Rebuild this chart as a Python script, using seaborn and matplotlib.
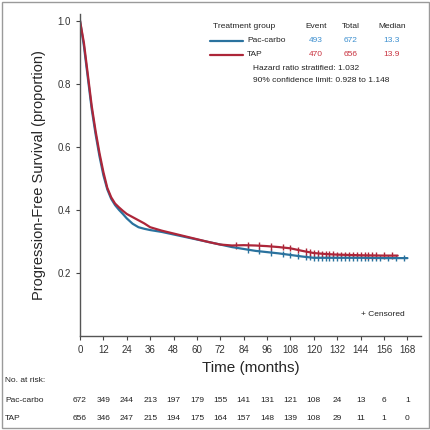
import numpy as np
import pandas as pd
import matplotlib
matplotlib.use("Agg")
import matplotlib.pyplot as plt
import matplotlib.transforms as mtransforms
from matplotlib.patches import Rectangle
import seaborn as sns

sns.set_style("ticks")
plt.rcParams['font.family'] = ['Liberation Sans', 'DejaVu Sans']

# ---- data ----
groups = ["Pac-carbo", "TAP"]
colors = {"Pac-carbo": "#2a729e", "TAP": "#ad2639"}
text_colors = {"Pac-carbo": "#3d8fcf", "TAP": "#c8323f"}

pc_time = [0, 2, 4, 6, 8, 10, 12, 14, 16, 18, 20, 22, 24, 27, 30, 33, 36, 42, 48, 54,
           60, 66, 72, 78, 84, 90, 96, 102, 108, 114, 120, 126, 132, 144, 156, 168]
pc_surv = [1.0, 0.92, 0.82, 0.72, 0.64, 0.57, 0.51, 0.465, 0.435, 0.415, 0.40, 0.387,
           0.373, 0.356, 0.345, 0.340, 0.336, 0.33, 0.322, 0.314, 0.306, 0.298, 0.29,
           0.282, 0.276, 0.27, 0.266, 0.262, 0.257, 0.252, 0.248, 0.248, 0.248, 0.248,
           0.247, 0.247]

tap_time = [0, 2, 4, 6, 8, 10, 12, 14, 16, 18, 20, 22, 24, 27, 30, 33, 36, 42, 48, 54,
            60, 66, 72, 78, 84, 90, 96, 102, 108, 114, 120, 126, 132, 144, 156, 163]
tap_surv = [1.0, 0.93, 0.83, 0.73, 0.65, 0.58, 0.52, 0.47, 0.44, 0.42, 0.408, 0.397,
            0.387, 0.377, 0.367, 0.357, 0.345, 0.334, 0.325, 0.316, 0.307, 0.298, 0.29,
            0.287, 0.288, 0.287, 0.285, 0.282, 0.278, 0.27, 0.263, 0.26, 0.258, 0.256,
            0.255, 0.255]

pc_cens_t = [86, 92, 98, 104, 108, 112, 116, 118, 120, 122, 124, 126, 128, 130, 132,
             134, 136, 138, 140, 142, 144, 146, 148, 150, 152, 154, 158, 162, 166]
pc_cens_s = [0.274, 0.269, 0.265, 0.260, 0.257, 0.254, 0.251, 0.250, 0.248, 0.248,
             0.248, 0.248, 0.248, 0.248, 0.248, 0.248, 0.248, 0.248, 0.248, 0.248,
             0.248, 0.248, 0.248, 0.248, 0.247, 0.247, 0.247, 0.247, 0.247]

tap_cens_t = [80, 86, 92, 98, 104, 108, 112, 116, 118, 120, 122, 124, 126, 128, 130,
              132, 134, 136, 138, 140, 142, 144, 146, 148, 150, 152, 156, 160]
tap_cens_s = [0.287, 0.288, 0.287, 0.284, 0.281, 0.278, 0.273, 0.268, 0.265, 0.263,
              0.262, 0.261, 0.260, 0.259, 0.259, 0.258, 0.257, 0.257, 0.257, 0.256,
              0.256, 0.256, 0.255, 0.255, 0.255, 0.255, 0.255, 0.255]

x_ticks = [0, 12, 24, 36, 48, 60, 72, 84, 96, 108, 120, 132, 144, 156, 168]
y_ticks = [0.2, 0.4, 0.6, 0.8, 1.0]
risk_pc = [672, 349, 244, 213, 197, 179, 155, 141, 131, 121, 108, 24, 13, 6, 1]
risk_tap = [656, 346, 247, 215, 194, 175, 164, 157, 148, 139, 108, 29, 11, 1, 0]

events = {"Pac-carbo": 493, "TAP": 470}
totals = {"Pac-carbo": 672, "TAP": 656}
medians = {"Pac-carbo": "13.3", "TAP": "13.9"}

curves = pd.concat([
    pd.DataFrame({"time": pc_time, "surv": pc_surv, "group": "Pac-carbo"}),
    pd.DataFrame({"time": tap_time, "surv": tap_surv, "group": "TAP"}),
])
cens = pd.concat([
    pd.DataFrame({"time": pc_cens_t, "surv": pc_cens_s, "group": "Pac-carbo"}),
    pd.DataFrame({"time": tap_cens_t, "surv": tap_cens_s, "group": "TAP"}),
])

fig = plt.figure(figsize=(4.31, 4.30), dpi=100)
ax = fig.add_axes([0.1856, 0.2186, 0.7914, 0.748])

sns.lineplot(data=curves, x="time", y="surv", hue="group", palette=colors,
             linewidth=1.6, legend=False, ax=ax, sort=False)
sns.scatterplot(data=cens, x="time", y="surv", hue="group", palette=colors,
                marker="|", s=20, linewidth=1.0, legend=False, ax=ax)

ax.set_xlim(0, 175)
ax.set_ylim(0, 1.02)
ax.set_xticks(x_ticks)
ax.set_xticklabels([str(t) for t in x_ticks], fontsize=7)
ax.set_yticks(y_ticks)
ax.set_yticklabels([f"{v:.1f}" for v in y_ticks], fontsize=7)
ax.tick_params(axis="both", length=3, width=0.8, colors="#444444", labelcolor="#333333")
for s in ["top", "right"]:
    ax.spines[s].set_visible(False)
for s in ["left", "bottom"]:
    ax.spines[s].set_color("#555555")
    ax.spines[s].set_linewidth(1.0)
ax.set_xlabel("Time (months)", fontsize=11, labelpad=4)
ax.set_ylabel("Progression-Free Survival (proportion)", fontsize=10.5, labelpad=8)

# legend table (figure pixel coords -> fraction)
W, H = 431.0, 430.0
def fx(px):
    return px / W
def fy(py):
    return 1 - py / H

fs = 6.0
tc = "#222222"
fig.text(fx(213), fy(27), "Treatment group", fontsize=fs, va="center", color=tc)
fig.text(fx(316), fy(27), "Event", fontsize=fs, va="center", ha="center", color=tc)
fig.text(fx(351), fy(27), "Total", fontsize=fs, va="center", ha="center", color=tc)
fig.text(fx(392), fy(27), "Median", fontsize=fs, va="center", ha="center", color=tc)
for g, ypx in zip(groups, [41, 55]):
    fig.add_artist(plt.Line2D([fx(210), fx(243)], [fy(ypx), fy(ypx)],
                              color=colors[g], linewidth=1.6))
    fig.text(fx(247), fy(ypx), g, fontsize=fs, va="center", color=tc)
    fig.text(fx(316), fy(ypx), str(events[g]), fontsize=fs, va="center", ha="center",
             color=text_colors[g])
    fig.text(fx(351), fy(ypx), str(totals[g]), fontsize=fs, va="center", ha="center",
             color=text_colors[g])
    fig.text(fx(392), fy(ypx), medians[g], fontsize=fs, va="center", ha="center",
             color=text_colors[g])
fig.text(fx(253), fy(69), "Hazard ratio stratified: 1.032", fontsize=fs, va="center",
         color=tc)
fig.text(fx(253), fy(81), "90% confidence limit: 0.928 to 1.148", fontsize=fs,
         va="center", color=tc)
fig.text(fx(405), fy(315), "+ Censored", fontsize=fs, va="center", ha="right", color=tc)

# number at risk
fig.text(fx(5), fy(381), "No. at risk:", fontsize=fs, va="center", color=tc)
fig.text(fx(5), fy(401), "Pac-carbo", fontsize=fs, va="center", color=tc)
fig.text(fx(5), fy(418), "TAP", fontsize=fs, va="center", color=tc)
trans = mtransforms.blended_transform_factory(ax.transData, fig.transFigure)
for t, a, b in zip(x_ticks, risk_pc, risk_tap):
    fig.text(t, fy(401), str(a), fontsize=fs, va="center", ha="center",
             transform=trans, color=tc)
    fig.text(t, fy(418), str(b), fontsize=fs, va="center", ha="center",
             transform=trans, color=tc)

fig.add_artist(Rectangle((fx(2), fy(428)), fx(427), 426 / H,
                         transform=fig.transFigure, fill=False, edgecolor="#9a9a9a",
                         linewidth=1.0))

fig.savefig("out.png", dpi=100)
